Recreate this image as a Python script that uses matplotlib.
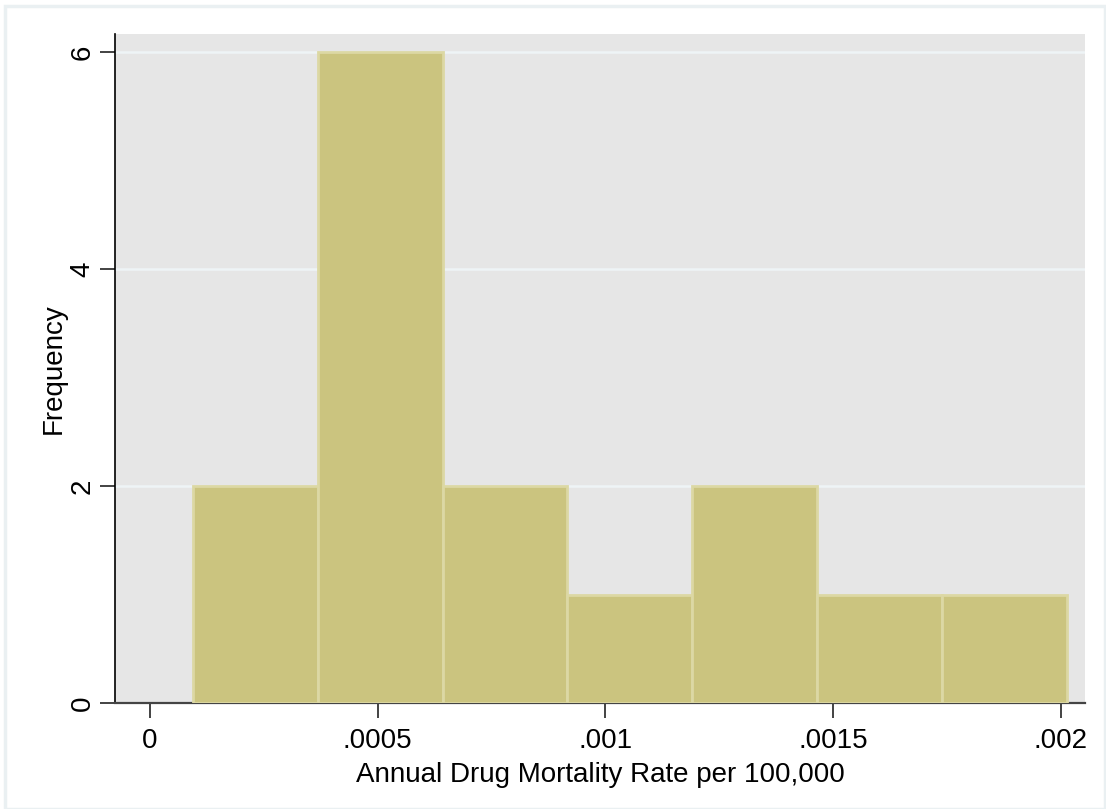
import matplotlib
matplotlib.use("Agg")
import matplotlib.pyplot as plt
from matplotlib.patches import Rectangle
import numpy as np

plt.rcParams['font.family'] = ['Liberation Sans', 'DejaVu Sans']

# histogram bins (rate per 100,000) and frequencies
bin_start = 0.0000944
bin_width = 0.000274
counts = [2, 6, 2, 1, 2, 1, 1]
xticks = [0, 0.0005, 0.001, 0.0015, 0.002]
xtick_labels = ['0', '.0005', '.001', '.0015', '.002']
yticks = [0, 2, 4, 6]

edges = bin_start + bin_width * np.arange(len(counts) + 1)

fig = plt.figure(figsize=(11.06, 8.09), dpi=100)
fig.patches.append(Rectangle((5 / 1106, 0), 1100 / 1106, 1 - 6 / 809,
                             transform=fig.transFigure, fill=False,
                             edgecolor='#eaf0f2', linewidth=2.5))

ax = fig.add_axes([115 / 1106, 1 - 703 / 809, 970 / 1106, 669 / 809])
ax.set_facecolor('#e6e6e6')

ax.bar(edges[:-1], counts, width=bin_width, align='edge',
       color='#cbc47f', edgecolor='#dcd8a4', linewidth=2, zorder=3)

ax.set_xlim(-0.0000768, 0.002053)
ax.set_ylim(0, 6.166)
ax.set_xticks(xticks)
ax.set_xticklabels(xtick_labels)
ax.set_yticks(yticks)
ax.set_yticklabels([str(v) for v in yticks], rotation=90, va='center')

ax.grid(axis='y', color='#eef4f6', linewidth=1.8, zorder=1)
ax.set_axisbelow(True)

for s in ['top', 'right']:
    ax.spines[s].set_visible(False)
ax.spines['left'].set_color('black')
ax.spines['bottom'].set_color('#444444')
ax.spines['left'].set_linewidth(1.2)
ax.spines['bottom'].set_linewidth(1.6)

ax.tick_params(axis='both', labelsize=20, length=11, width=1.2, colors='#222222',
               labelcolor='black')
ax.tick_params(axis='x', pad=7)
ax.tick_params(axis='y', pad=3)

ax.set_xlabel('Annual Drug Mortality Rate per 100,000', fontsize=20, labelpad=6)
ax.set_ylabel('Frequency', fontsize=20, labelpad=2)

fig.savefig('out.png', dpi=100, facecolor='white')
